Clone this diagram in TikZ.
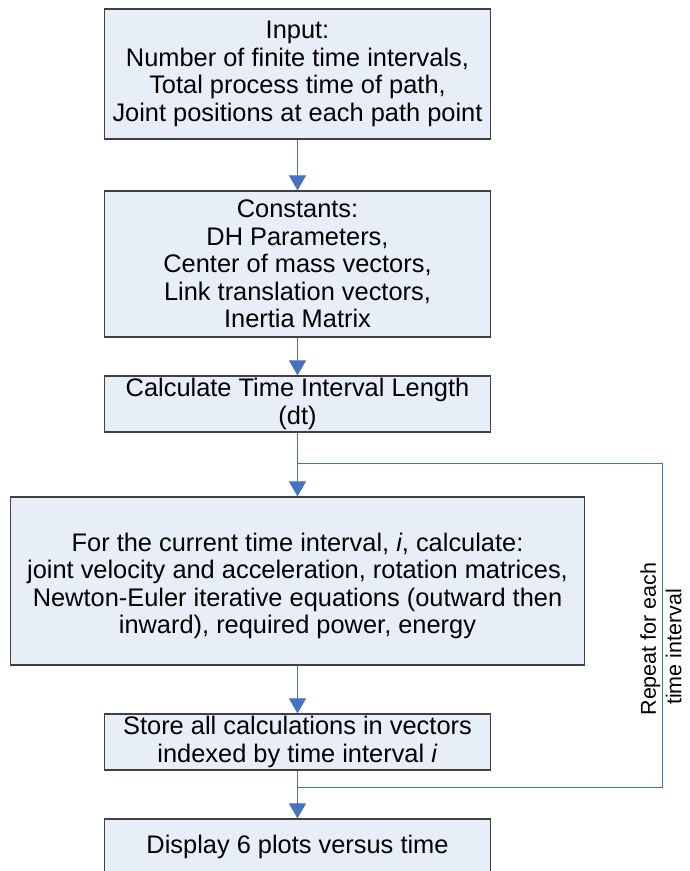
\documentclass[tikz,border=0pt]{standalone}
\usepackage{fontspec}
\setmainfont{Liberation Sans}
\usetikzlibrary{arrows.meta}
\definecolor{boxfill}{RGB}{232,238,247}
\definecolor{boxline}{RGB}{64,64,64}
\definecolor{flow}{RGB}{68,114,196}
\begin{document}
\begin{tikzpicture}[x=1pt,y=-1pt,
  box/.style={draw=boxline, fill=boxfill, line width=1.2pt, align=center,
    font=\fontsize{25.4}{27.6}\selectfont, inner sep=0pt},
  flowline/.style={draw=flow, line width=1pt},
  flowarrow/.style={flowline, -{Triangle[length=15pt,width=17pt]}}]
\path[use as bounding box, clip] (0,0) rectangle (690,871);
\fill[white] (0,0) rectangle (690,871);

\node[box, minimum width=386pt, minimum height=130pt] (input) at (297.5,74)
  {Input:\\Number of finite time intervals,\\Total process time of path,\\Joint positions at each path point};
\node[box, minimum width=386pt, minimum height=146pt] (const) at (297.5,264)
  {Constants:\\DH Parameters,\\Center of mass vectors,\\Link translation vectors,\\Inertia Matrix};
\node[box, minimum width=386pt, minimum height=56pt] (dt) at (297.5,404)
  {Calculate Time Interval Length\\(dt)};
\node[box, minimum width=574pt, minimum height=168pt, text height=111pt] (calc) at (297.5,581)
  {For the current time interval, \textit{i}, calculate:\\joint velocity and acceleration, rotation matrices,\\Newton-Euler iterative equations (outward then\\inward), required power, energy};
\node[box, minimum width=386pt, minimum height=56pt] (store) at (297.5,742)
  {Store all calculations in vectors\\indexed by time interval \textit{i}};
\node[box, minimum width=386pt, minimum height=56pt] (display) at (297.5,847)
  {Display 6 plots versus time};

\coordinate (jtop) at (297.5,463);
\coordinate (jbot) at (297.5,787);
\coordinate (rtop) at (662.5,463);
\coordinate (rbot) at (662.5,787);

\draw[flowarrow] (input) -- (const);
\draw[flowarrow] (const) -- (dt);
\draw[flowarrow] (dt) -- (calc);
\draw[flowarrow] (calc) -- (store);
\draw[flowarrow] (store) -- (display);
\draw[flowline] (jbot) -- (rbot) -- (rtop) -- (jtop);

\node[font=\fontsize{21.5}{25.5}\selectfont, rotate=90, align=center, inner sep=0pt] (repeat) at (661,639)
  {Repeat for each\\time interval\hspace*{16pt}};
\end{tikzpicture}
\end{document}
